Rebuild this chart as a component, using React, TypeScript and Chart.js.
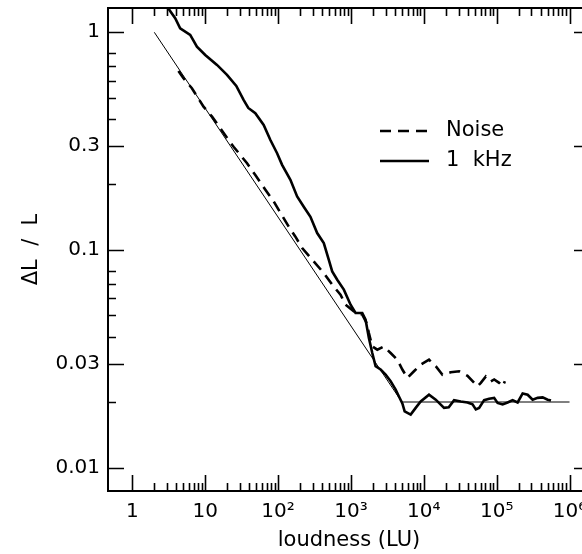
import React, { useEffect, useRef } from "react";
import { Chart, registerables } from "chart.js";

Chart.register(...registerables);

// Reference line (Weber / Poisson limit)
const refX = [2, 5000, 1e6];
const refY = [1, 0.02, 0.02];

// 1 kHz tone
const kHzX = [3.1, 3.87, 4.53, 6.22, 7.69, 10, 14.5, 19.9, 26.7, 33.6, 39.0, 48.7, 63.4, 78.4, 96.9, 113.5, 147.6, 182.5, 225, 278, 344, 424, 497, 553, 648, 799, 988, 1157, 1430, 1588, 1763, 1963, 2180, 2554, 2991, 3505, 4107, 4559, 5077, 5462, 6604, 7737, 9066, 11790, 14580, 18960, 22000, 26030, 32180, 39790, 46610, 51740, 57450, 67320, 78880, 92390, 102900, 120600, 141300, 165500, 193900, 227200, 266200, 311800, 365300, 427900, 501300, 556600];
const kHzY = [1.29, 1.16, 1.043, 0.972, 0.859, 0.787, 0.708, 0.637, 0.567, 0.489, 0.449, 0.425, 0.375, 0.320, 0.278, 0.246, 0.210, 0.176, 0.158, 0.142, 0.1195, 0.1075, 0.0901, 0.0796, 0.0729, 0.0657, 0.0560, 0.0513, 0.0513, 0.0478, 0.0394, 0.0336, 0.0292, 0.0282, 0.0267, 0.0249, 0.0228, 0.0212, 0.0197, 0.0181, 0.0175, 0.0188, 0.0201, 0.0216, 0.0205, 0.0188, 0.0189, 0.0204, 0.0201, 0.0199, 0.0195, 0.0185, 0.0188, 0.0204, 0.0207, 0.0209, 0.0198, 0.0195, 0.0199, 0.0204, 0.0199, 0.0219, 0.0216, 0.0205, 0.0209, 0.0210, 0.0205, 0.0203];

// Noise
const noiseX = [4.29, 5.03, 6.56, 9.48, 12.4, 16.1, 20.9, 24.5, 30.3, 37.5, 48.7, 66.9, 87.0, 107.6, 139.9, 173, 214, 294, 424, 553, 719, 843, 1096, 1430, 1639, 1763, 1963, 2300, 2835, 3505, 4333, 5077, 5948, 7331, 9066, 11790, 14580, 18030, 23440, 30500, 39790, 49040, 54620, 60630, 71050, 83210, 92390, 108200, 120600, 129700];
const noiseY = [0.664, 0.615, 0.553, 0.455, 0.410, 0.362, 0.320, 0.298, 0.273, 0.250, 0.221, 0.189, 0.167, 0.148, 0.128, 0.115, 0.102, 0.0901, 0.0783, 0.0692, 0.0622, 0.0560, 0.0522, 0.0504, 0.0462, 0.0415, 0.0360, 0.0348, 0.0360, 0.0336, 0.0313, 0.0282, 0.0258, 0.0277, 0.0297, 0.0313, 0.0292, 0.0267, 0.0274, 0.0277, 0.0264, 0.0245, 0.0236, 0.0245, 0.0262, 0.0249, 0.0254, 0.0245, 0.0236, 0.0249];

// Axis ticks
const xMajorTicks = [1, 10, 100, 1000, 1e4, 1e5, 1e6];
const xMajorLabels = ["1", "10", "10²", "10³", "10⁴", "10⁵", "10⁶"];
const xMinorMultipliers = [2, 3, 4, 5, 6, 7, 8, 9];
const yMajorTicks = [1, 0.3, 0.1, 0.03, 0.01];
const yMajorLabels = ["1", "0.3", "0.1", "0.03", "0.01"];
const yMinorTicks = [0.8, 0.7, 0.6, 0.5, 0.4, 0.2, 0.08, 0.07, 0.06, 0.05, 0.04, 0.02];

const legendLabels = ["Noise", "1  kHz"];

const FONT = "'DejaVu Sans', sans-serif";

const zip = (xs: number[], ys: number[]) => xs.map((x, i) => ({ x, y: ys[i] }));

const isClose = (a: number, b: number) => Math.abs(a - b) / b < 1e-6;

const framePlugin = {
  id: "frameTicks",
  afterDatasetsDraw(chart: any) {
    const { ctx, chartArea, scales } = chart;
    const { left, right, top, bottom } = chartArea;
    const xs = scales.x;
    const ys = scales.y;
    ctx.save();
    ctx.strokeStyle = "#000";
    ctx.lineWidth = 2;
    ctx.strokeRect(left, top, right - left, bottom - top);
    ctx.lineWidth = 1.6;
    ctx.beginPath();
    xs.ticks.forEach((t: any) => {
      const px = Math.round(xs.getPixelForValue(t.value)) + 0.5;
      const major = xMajorTicks.some((v) => isClose(v, t.value));
      const len = major ? 16 : 8;
      ctx.moveTo(px, bottom);
      ctx.lineTo(px, bottom - len);
      ctx.moveTo(px, top);
      ctx.lineTo(px, top + len);
    });
    ys.ticks.forEach((t: any) => {
      const py = Math.round(ys.getPixelForValue(t.value)) + 0.5;
      const major = yMajorTicks.some((v) => isClose(v, t.value));
      const len = major ? 16 : 8;
      ctx.moveTo(left, py);
      ctx.lineTo(left + len, py);
      ctx.moveTo(right, py);
      ctx.lineTo(right - len, py);
    });
    ctx.stroke();

    // legend
    const lx0 = left + 272;
    const lx1 = left + 321;
    const tx = left + 338;
    const rows = [top + 123, top + 153];
    chart.data.datasets.slice(0, 2).forEach((ds: any, i: number) => {
      ctx.beginPath();
      ctx.lineWidth = ds.borderWidth;
      ctx.setLineDash(ds.borderDash || []);
      ctx.moveTo(lx0, rows[i]);
      ctx.lineTo(lx1, rows[i]);
      ctx.stroke();
      ctx.setLineDash([]);
      ctx.fillStyle = "#000";
      ctx.font = `21px ${FONT}`;
      ctx.textBaseline = "middle";
      ctx.textAlign = "left";
      ctx.fillText(legendLabels[i], tx, rows[i]);
    });
    ctx.restore();
  },
};

export default function App() {
  const canvasRef = useRef<HTMLCanvasElement | null>(null);

  useEffect(() => {
    if (!canvasRef.current) return;
    const xTicks: number[] = [];
    xMajorTicks.forEach((d, i) => {
      xTicks.push(d);
      if (i < xMajorTicks.length - 1) xMinorMultipliers.forEach((m) => xTicks.push(d * m));
    });
    const yTicks = [...yMajorTicks, ...yMinorTicks].sort((a, b) => a - b);

    const chart = new Chart(canvasRef.current, {
      type: "line",
      data: {
        datasets: [
          {
            label: "Noise",
            data: zip(noiseX, noiseY),
            borderColor: "#000",
            borderWidth: 2.6,
            borderDash: [11, 7],
            pointRadius: 0,
            tension: 0,
            fill: false,
          },
          {
            label: "1 kHz",
            data: zip(kHzX, kHzY),
            borderColor: "#000",
            borderWidth: 2.6,
            pointRadius: 0,
            tension: 0,
            fill: false,
          },
          {
            label: "reference",
            data: zip(refX, refY),
            borderColor: "#000",
            borderWidth: 1,
            pointRadius: 0,
            tension: 0,
            fill: false,
          },
        ],
      },
      options: {
        responsive: false,
        animation: false,
        devicePixelRatio: 1,
        layout: { padding: { left: 0, top: 8, right: 10, bottom: 0 } },
        plugins: {
          legend: { display: false },
          tooltip: { enabled: false },
        },
        font: { family: FONT },
        scales: {
          x: {
            type: "logarithmic",
            min: 0.463,
            max: 1.91e6,
            grid: { display: false, drawTicks: false },
            border: { display: false },
            afterBuildTicks: (scale: any) => {
              scale.ticks = xTicks.map((v) => ({ value: v }));
            },
            afterFit: (scale: any) => {
              scale.height = 63;
              scale.paddingLeft = 0;
              scale.paddingRight = 0;
            },
            ticks: {
              autoSkip: false,
              maxRotation: 0,
              minRotation: 0,
              padding: 9,
              color: "#000",
              font: { family: FONT, size: 20 },
              callback: (v: any) => {
                const idx = xMajorTicks.findIndex((d) => isClose(d, Number(v)));
                return idx >= 0 ? xMajorLabels[idx] : "";
              },
            },
            title: {
              display: true,
              text: "loudness (LU)",
              color: "#000",
              font: { family: FONT, size: 21 },
              padding: { top: 0, bottom: 1 },
            },
          },
          y: {
            type: "logarithmic",
            min: 0.0078,
            max: 1.293,
            grid: { display: false, drawTicks: false },
            border: { display: false },
            afterBuildTicks: (scale: any) => {
              scale.ticks = yTicks.map((v) => ({ value: v }));
            },
            afterFit: (scale: any) => {
              scale.width = 108;
              scale.paddingTop = 0;
              scale.paddingBottom = 0;
            },
            ticks: {
              autoSkip: false,
              padding: 8,
              color: "#000",
              font: { family: FONT, size: 20 },
              callback: (v: any) => {
                const idx = yMajorTicks.findIndex((d) => isClose(d, Number(v)));
                return idx >= 0 ? yMajorLabels[idx] : "";
              },
            },
            title: {
              display: true,
              text: "ΔL  /  L",
              color: "#000",
              font: { family: FONT, size: 21 },
              padding: { top: 19, bottom: 0 },
            },
          },
        },
      },
      plugins: [framePlugin],
    } as any);
    return () => chart.destroy();
  }, []);

  return (
    <div
      style={{
        position: "fixed",
        left: 0,
        top: 0,
        width: 582,
        height: 554,
        overflow: "hidden",
        background: "#fff",
      }}
    >
      <canvas ref={canvasRef} width={600} height={554} style={{ display: "block" }} />
    </div>
  );
}
